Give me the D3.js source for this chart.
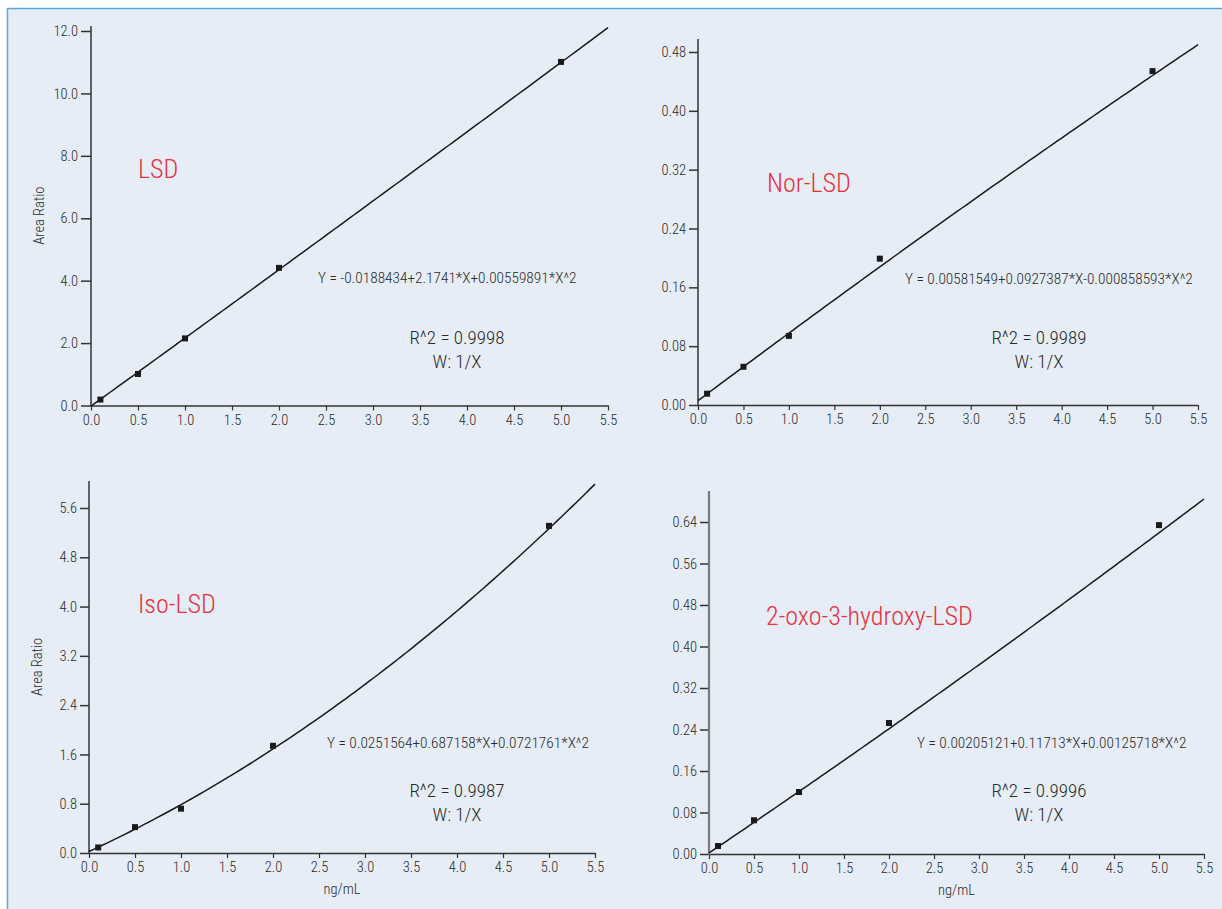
<!DOCTYPE html>
<html lang="en">
<head>
<meta charset="UTF-8">
<title>Calibration curves</title>
<script src="https://d3js.org/d3.v7.min.js"></script>
<style>
  body { margin: 0; background: #fff; }
  svg text { font-family: "Liberation Sans Narrow", "Roboto Condensed", Roboto, sans-serif; font-weight: 300; }
</style>
</head>
<body>
<div id="chart"></div>
<script>
// concentrations (ng/mL) shared by every panel
var conc = [0.1, 0.5, 1.0, 2.0, 5.0];
var xTicks = [0, 0.5, 1, 1.5, 2, 2.5, 3, 3.5, 4, 4.5, 5, 5.5];

// measured area ratios
var lsdArea = [0.19, 1.01, 2.15, 4.41, 11.01];
var norArea = [0.0154, 0.052, 0.094, 0.199, 0.454];
var isoArea = [0.09, 0.42, 0.72, 1.74, 5.31];
var oxoArea = [0.0154, 0.065, 0.1195, 0.2525, 0.634];

// fit coefficients  a + b*X + c*X^2
var lsdFit = [-0.0188434, 2.1741, 0.00559891];
var norFit = [0.00581549, 0.0927387, -0.000858593];
var isoFit = [0.0251564, 0.687158, 0.0721761];
var oxoFit = [0.00205121, 0.11713, 0.00125718];

var names = ["LSD", "Nor-LSD", "Iso-LSD", "2-oxo-3-hydroxy-LSD"];
var equations = [
  "Y = -0.0188434+2.1741*X+0.00559891*X^2",
  "Y = 0.00581549+0.0927387*X-0.000858593*X^2",
  "Y = 0.0251564+0.687158*X+0.0721761*X^2",
  "Y = 0.00205121+0.11713*X+0.00125718*X^2"
];
var rSquared = ["R^2 = 0.9998", "R^2 = 0.9989", "R^2 = 0.9987", "R^2 = 0.9996"];
var weighting = "W: 1/X";

var lsdTicks = [0, 2, 4, 6, 8, 10, 12];
var norTicks = [0, 0.08, 0.16, 0.24, 0.32, 0.40, 0.48];
var isoTicks = [0, 0.8, 1.6, 2.4, 3.2, 4.0, 4.8, 5.6];
var oxoTicks = [0, 0.08, 0.16, 0.24, 0.32, 0.40, 0.48, 0.56, 0.64];

var W = 1222, H = 909;

var svg = d3.select("#chart").append("svg")
  .attr("width", W).attr("height", H);

// frame
svg.append("rect").attr("x", 7).attr("y", 8).attr("width", W).attr("height", H)
  .attr("fill", "#e6edf6");
svg.append("line").attr("x1", 7).attr("x2", W).attr("y1", 8.5).attr("y2", 8.5)
  .attr("stroke", "#5aa8dc").attr("stroke-width", 1.5);
svg.append("line").attr("x1", 7.5).attr("x2", 7.5).attr("y1", 8).attr("y2", H)
  .attr("stroke", "#5aa8dc").attr("stroke-width", 1.5);

var panels = [
  { vals: lsdArea, fit: lsdFit, ticks: lsdTicks, fmt: ".1f", ymax: 12,
    x0: 91, x1: 608, yb: 405.5, yt: 31, top: 26, tick: 10, axisColor: "#333", axisW: 1.5,
    ylab: true, xlab: false,
    name: [138, 178], eq: [318, 283], r2: [457, 344] },
  { vals: norArea, fit: norFit, ticks: norTicks, fmt: ".2f", ymax: 0.48,
    x0: 698, x1: 1198, yb: 405, yt: 52, top: 39, tick: 9, axisColor: "#333", axisW: 1.5,
    ylab: false, xlab: false,
    name: [767, 192], eq: [905, 284], r2: [1039, 344] },
  { vals: isoArea, fit: isoFit, ticks: isoTicks, fmt: ".1f", ymax: 5.6,
    x0: 89, x1: 595, yb: 853, yt: 508, top: 481, tick: 9, axisColor: "#333", axisW: 1.5,
    ylab: true, xlab: true,
    name: [138, 613], eq: [327, 748], r2: [457, 797] },
  { vals: oxoArea, fit: oxoFit, ticks: oxoTicks, fmt: ".2f", ymax: 0.64,
    x0: 709, x1: 1204, yb: 854, yt: 522, top: 491, tick: 9, axisColor: "#7a7a7a", axisW: 2.2,
    ylab: false, xlab: true,
    name: [766, 625], eq: [917, 748], r2: [1039, 797] }
];

panels.forEach(function(p, i) {
  var g = svg.append("g");
  var x = d3.scaleLinear().domain([0, 5.5]).range([p.x0, p.x1]);
  var y = d3.scaleLinear().domain([0, p.ymax]).range([p.yb, p.yt]);

  // x axis
  var xa = g.append("g")
    .attr("transform", "translate(0," + p.yb + ")")
    .call(d3.axisBottom(x).tickValues(xTicks).tickFormat(d3.format(".1f"))
      .tickSize(5).tickSizeOuter(0).tickPadding(4));
  xa.select(".domain").attr("stroke", "#333").attr("stroke-width", 1.5);
  xa.selectAll(".tick line").attr("stroke", "#333").attr("stroke-width", 1.2);
  xa.selectAll("text").attr("fill", "#2a2a2a").style("font-size", "14.5px");

  // y axis
  var ya = g.append("g")
    .attr("transform", "translate(" + p.x0 + ",0)")
    .call(d3.axisLeft(y).tickValues(p.ticks).tickFormat(d3.format(p.fmt))
      .tickSize(p.tick).tickSizeOuter(0).tickPadding(3));
  ya.select(".domain").remove();
  ya.selectAll(".tick line").attr("stroke", "#333").attr("stroke-width", 1.5);
  ya.selectAll("text").attr("fill", "#2a2a2a").style("font-size", "14.5px");
  g.append("line")
    .attr("x1", p.x0).attr("x2", p.x0)
    .attr("y1", y(0) + 0.75).attr("y2", p.top)
    .attr("stroke", p.axisColor).attr("stroke-width", p.axisW);

  // fitted curve
  var xs = d3.range(0, 5.5001, 0.05);
  var line = d3.line()
    .x(function(d) { return x(d); })
    .y(function(d) { return y(p.fit[0] + p.fit[1] * d + p.fit[2] * d * d); });
  g.append("path").datum(xs)
    .attr("d", line)
    .attr("fill", "none")
    .attr("stroke", "#1a1a1a")
    .attr("stroke-width", 1.5);

  // calibration points
  g.selectAll("rect.pt").data(p.vals).enter().append("rect")
    .attr("class", "pt")
    .attr("x", function(d, j) { return x(conc[j]) - 3; })
    .attr("y", function(d) { return y(d) - 3; })
    .attr("width", 6).attr("height", 6)
    .attr("fill", "#1a1a1a");

  // labels
  g.append("text")
    .attr("x", p.name[0]).attr("y", p.name[1])
    .attr("fill", "#e8303a")
    .style("font-size", "26px")
    .text(names[i]);
  g.append("text")
    .attr("x", p.eq[0]).attr("y", p.eq[1])
    .attr("fill", "#2a2a2a")
    .style("font-size", "15.3px")
    .text(equations[i]);
  g.append("text")
    .attr("x", p.r2[0]).attr("y", p.r2[1])
    .attr("text-anchor", "middle")
    .attr("fill", "#2a2a2a")
    .style("font-size", "19px")
    .text(rSquared[i]);
  g.append("text")
    .attr("x", p.r2[0]).attr("y", p.r2[1] + 24)
    .attr("text-anchor", "middle")
    .attr("fill", "#2a2a2a")
    .style("font-size", "19px")
    .text(weighting);

  if (p.ylab) {
    g.append("text")
      .attr("transform", "translate(" + (p.x0 - 47) + "," + ((p.yb + p.top) / 2) + ") rotate(-90)")
      .attr("text-anchor", "middle")
      .attr("fill", "#2a2a2a")
      .style("font-size", "14.5px")
      .text("Area Ratio");
  }
  if (p.xlab) {
    g.append("text")
      .attr("x", (p.x0 + p.x1) / 2).attr("y", p.yb + 41)
      .attr("text-anchor", "middle")
      .attr("fill", "#2a2a2a")
      .style("font-size", "14.5px")
      .text("ng/mL");
  }
});
</script>
</body>
</html>
